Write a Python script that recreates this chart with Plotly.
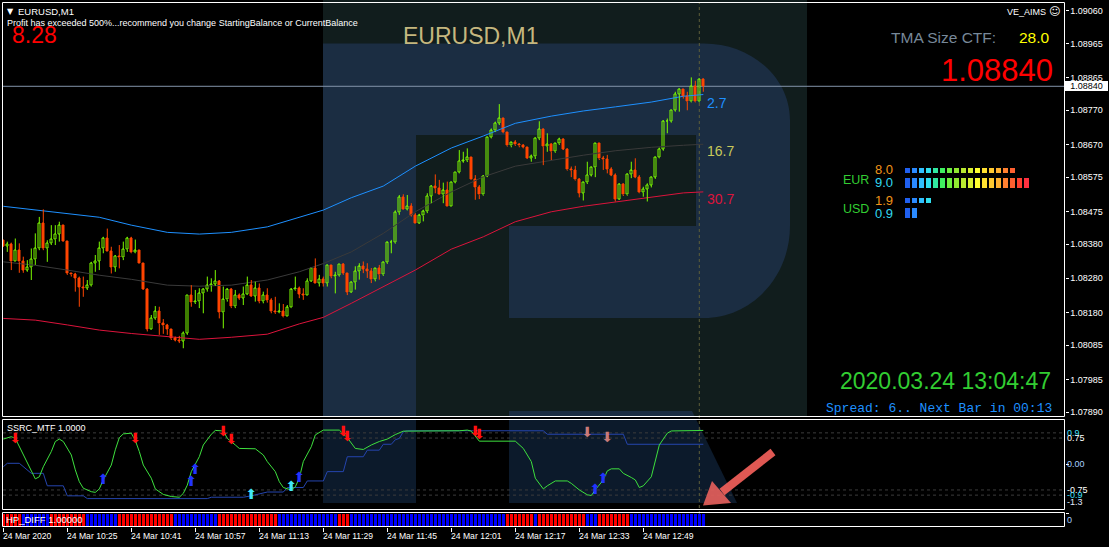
import plotly.graph_objects as go
import pandas as pd

W, H = 1109, 547

# ---------------- data ----------------
symbol = "EURUSD,M1"
start_time = "2020-03-24 10:09"
open_first = 1.08390
close = [
    1.08374, 1.08380, 1.08328, 1.08362, 1.08328, 1.08304, 1.08312, 1.08335, 1.08367, 1.08440,
    1.08367, 1.08382, 1.08393, 1.08409, 1.08434, 1.08388, 1.08294, 1.08290, 1.08280, 1.08254,
    1.08251, 1.08259, 1.08324, 1.08330, 1.08367, 1.08396, 1.08357, 1.08312, 1.08345, 1.08340,
    1.08364, 1.08396, 1.08355, 1.08360, 1.08324, 1.08248, 1.08131, 1.08163, 1.08183, 1.08147,
    1.08141, 1.08131, 1.08103, 1.08100, 1.08097, 1.08120, 1.08230, 1.08209, 1.08212, 1.08236,
    1.08248, 1.08258, 1.08263, 1.08272, 1.08180, 1.08217, 1.08246, 1.08197, 1.08231, 1.08222,
    1.08233, 1.08258, 1.08228, 1.08251, 1.08212, 1.08231, 1.08215, 1.08183, 1.08180, 1.08184,
    1.08168, 1.08194, 1.08246, 1.08251, 1.08234, 1.08231, 1.08272, 1.08309, 1.08265, 1.08277,
    1.08265, 1.08318, 1.08285, 1.08288, 1.08320, 1.08294, 1.08239, 1.08268, 1.08300, 1.08313,
    1.08307, 1.08300, 1.08276, 1.08308, 1.08290, 1.08326, 1.08383, 1.08384, 1.08472, 1.08516,
    1.08481, 1.08489, 1.08464, 1.08441, 1.08462, 1.08475, 1.08520, 1.08549, 1.08542, 1.08524,
    1.08535, 1.08489, 1.08560, 1.08589, 1.08622, 1.08623, 1.08633, 1.08567, 1.08545, 1.08523,
    1.08578, 1.08691, 1.08710, 1.08732, 1.08746, 1.08705, 1.08666, 1.08675, 1.08669, 1.08666,
    1.08662, 1.08630, 1.08635, 1.08688, 1.08715, 1.08664, 1.08671, 1.08649, 1.08672, 1.08686,
    1.08657, 1.08596, 1.08594, 1.08567, 1.08528, 1.08559, 1.08581, 1.08603, 1.08672, 1.08628,
    1.08626, 1.08598, 1.08581, 1.08511, 1.08554, 1.08523, 1.08583, 1.08593, 1.08575, 1.08530,
    1.08540, 1.08552, 1.08575, 1.08632, 1.08657, 1.08737, 1.08738, 1.08770, 1.08817, 1.08831,
    1.08811, 1.08795, 1.08840, 1.08795, 1.08860, 1.08840,
]
high = [
    1.08391, 1.08387, 1.08384, 1.08396, 1.08382, 1.08343, 1.08333, 1.08367, 1.08411, 1.08459,
    1.08481, 1.08391, 1.08435, 1.08435, 1.08445, 1.08434, 1.08388, 1.08294, 1.08296, 1.08285,
    1.08285, 1.08275, 1.08328, 1.08348, 1.08387, 1.08401, 1.08425, 1.08372, 1.08348, 1.08377,
    1.08387, 1.08401, 1.08401, 1.08393, 1.08360, 1.08324, 1.08251, 1.08173, 1.08199, 1.08197,
    1.08161, 1.08147, 1.08131, 1.08110, 1.08112, 1.08125, 1.08230, 1.08260, 1.08246, 1.08251,
    1.08251, 1.08285, 1.08280, 1.08304, 1.08275, 1.08256, 1.08251, 1.08251, 1.08246, 1.08236,
    1.08256, 1.08285, 1.08275, 1.08270, 1.08265, 1.08241, 1.08251, 1.08222, 1.08226, 1.08207,
    1.08205, 1.08202, 1.08251, 1.08285, 1.08256, 1.08251, 1.08280, 1.08309, 1.08338, 1.08290,
    1.08285, 1.08320, 1.08318, 1.08299, 1.08320, 1.08324, 1.08294, 1.08271, 1.08315, 1.08324,
    1.08329, 1.08324, 1.08310, 1.08310, 1.08319, 1.08329, 1.08387, 1.08392, 1.08478, 1.08523,
    1.08525, 1.08523, 1.08499, 1.08470, 1.08468, 1.08480, 1.08528, 1.08552, 1.08583, 1.08567,
    1.08559, 1.08562, 1.08562, 1.08589, 1.08654, 1.08649, 1.08659, 1.08633, 1.08581, 1.08552,
    1.08581, 1.08693, 1.08717, 1.08737, 1.08788, 1.08748, 1.08705, 1.08678, 1.08683, 1.08674,
    1.08671, 1.08662, 1.08641, 1.08691, 1.08738, 1.08717, 1.08703, 1.08674, 1.08674, 1.08690,
    1.08688, 1.08659, 1.08606, 1.08608, 1.08572, 1.08562, 1.08620, 1.08606, 1.08674, 1.08674,
    1.08637, 1.08640, 1.08604, 1.08586, 1.08557, 1.08557, 1.08586, 1.08620, 1.08630, 1.08581,
    1.08547, 1.08557, 1.08577, 1.08635, 1.08661, 1.08741, 1.08746, 1.08772, 1.08824, 1.08834,
    1.08831, 1.08824, 1.08866, 1.08856, 1.08863, 1.08863,
]
low = [
    1.08372, 1.08357, 1.08304, 1.08328, 1.08296, 1.08296, 1.08299, 1.08275, 1.08319, 1.08362,
    1.08362, 1.08328, 1.08377, 1.08377, 1.08387, 1.08387, 1.08290, 1.08285, 1.08241, 1.08197,
    1.08226, 1.08246, 1.08256, 1.08299, 1.08304, 1.08353, 1.08357, 1.08294, 1.08299, 1.08309,
    1.08333, 1.08357, 1.08353, 1.08353, 1.08324, 1.08246, 1.08125, 1.08130, 1.08159, 1.08115,
    1.08118, 1.08115, 1.08100, 1.08096, 1.08091, 1.08076, 1.08115, 1.08197, 1.08205, 1.08193,
    1.08178, 1.08241, 1.08241, 1.08258, 1.08163, 1.08134, 1.08212, 1.08193, 1.08193, 1.08217,
    1.08202, 1.08231, 1.08226, 1.08212, 1.08207, 1.08207, 1.08209, 1.08178, 1.08176, 1.08178,
    1.08166, 1.08168, 1.08193, 1.08244, 1.08222, 1.08217, 1.08231, 1.08270, 1.08265, 1.08256,
    1.08256, 1.08256, 1.08280, 1.08236, 1.08285, 1.08290, 1.08231, 1.08237, 1.08247, 1.08276,
    1.08295, 1.08281, 1.08266, 1.08271, 1.08276, 1.08287, 1.08322, 1.08353, 1.08381, 1.08465,
    1.08480, 1.08478, 1.08460, 1.08441, 1.08439, 1.08446, 1.08470, 1.08499, 1.08528, 1.08523,
    1.08499, 1.08489, 1.08489, 1.08557, 1.08586, 1.08617, 1.08619, 1.08567, 1.08509, 1.08511,
    1.08521, 1.08575, 1.08688, 1.08707, 1.08727, 1.08703, 1.08664, 1.08662, 1.08666, 1.08662,
    1.08659, 1.08628, 1.08620, 1.08628, 1.08683, 1.08610, 1.08649, 1.08625, 1.08646, 1.08669,
    1.08654, 1.08594, 1.08575, 1.08565, 1.08516, 1.08507, 1.08555, 1.08577, 1.08575, 1.08625,
    1.08596, 1.08586, 1.08578, 1.08504, 1.08509, 1.08520, 1.08521, 1.08572, 1.08572, 1.08528,
    1.08518, 1.08504, 1.08545, 1.08570, 1.08630, 1.08652, 1.08703, 1.08734, 1.08766, 1.08766,
    1.08804, 1.08770, 1.08793, 1.08793, 1.08793, 1.08824,
]
last_price = 1.08840

band_idx = [0, 8, 16, 24, 32, 41, 49, 57, 66, 74, 80, 87, 95, 103, 112, 120, 128, 137, 145, 153, 162, 170, 175]
band_upper = [1.08490, 1.08479, 1.08469, 1.08458, 1.08435, 1.08414, 1.08409, 1.08414, 1.08430, 1.08458, 1.08479,
              1.08515, 1.08549, 1.08607, 1.08660, 1.08695, 1.08732, 1.08753, 1.08768, 1.08780, 1.08794, 1.08811, 1.08816]
band_middle = [1.08328, 1.08318, 1.08304, 1.08289, 1.08277, 1.08260, 1.08257, 1.08260, 1.08275, 1.08299, 1.08323,
               1.08357, 1.08411, 1.08474, 1.08532, 1.08576, 1.08607, 1.08625, 1.08639, 1.08652, 1.08662, 1.08668, 1.08671]
band_lower = [1.08163, 1.08158, 1.08144, 1.08129, 1.08119, 1.08110, 1.08102, 1.08108, 1.08117, 1.08147, 1.08166,
              1.08207, 1.08255, 1.08304, 1.08365, 1.08401, 1.08445, 1.08474, 1.08490, 1.08503, 1.08518, 1.08529, 1.08532]
band_labels = ["2.7", "16.7", "30.7"]

ssrc_fast_idx = [0, 2, 3, 4, 6, 7, 8, 9, 10, 12, 13, 14, 15, 17, 18, 19, 20, 22, 23, 24, 25, 27, 28, 29, 30, 32,
                 33, 34, 35, 37, 38, 40, 42, 44, 45, 46, 47, 49, 50, 52, 53, 55, 56, 58, 59, 63, 65, 66, 68, 69, 70,
                 72, 73, 74, 75, 77, 78, 80, 84, 86, 88, 90, 92, 94, 96, 98, 100, 114, 116, 117, 119, 128, 130, 132,
                 133, 135, 136, 138, 141, 142, 144, 146, 147, 148, 150, 151, 152, 154, 155, 157, 158, 159, 160, 162,
                 163, 164, 166, 167, 175]
ssrc_fast = [0.72, 0.79, 0.74, 0.50, 0.06, -0.22, -0.43, -0.37, -0.08, 0.36, 0.65, 0.72, 0.65, 0.26, -0.17, -0.51,
             -0.70, -0.80, -0.82, -0.72, -0.46, -0.03, 0.41, 0.76, 0.87, 0.89, 0.68, 0.36, -0.03, -0.41, -0.72, -0.88,
             -0.94, -0.96, -0.85, -0.61, -0.22, 0.21, 0.55, 0.86, 0.97, 0.955, 0.74, 0.55, 0.45, 0.44, 0.26, 0.07,
             -0.22, -0.51, -0.68, -0.75, -0.66, -0.41, 0.07, 0.50, 0.84, 0.98, 0.98, 0.76, 0.45, 0.42, 0.55, 0.65,
             0.72, 0.85, 0.95, 0.96, 0.98, 0.95, 0.66, 0.66, 0.45, 0.07, -0.41, -0.72, -0.63, -0.49, -0.49, -0.56,
             -0.75, -0.89, -0.91, -0.75, -0.46, -0.20, -0.14, -0.14, -0.27, -0.39, -0.46, -0.68, -0.63, -0.37, 0.07,
             0.55, 0.89, 0.955, 0.97]
ssrc_slow_idx = [0, 1, 4, 7, 10, 11, 15, 16, 20, 21, 51, 52, 60, 62, 66, 70, 71, 75, 76, 80, 81, 85, 86, 90, 91,
                 94, 95, 97, 98, 99, 100, 101, 135, 136, 155, 156, 175]
ssrc_slow = [-0.08, 0.02, 0.02, -0.27, -0.27, -0.63, -0.63, -0.92, -0.92, -1.0, -1.0, -0.96, -0.96, -0.92, -0.81,
             -0.81, -0.68, -0.68, -0.49, -0.49, -0.22, -0.22, 0.21, 0.21, 0.40, 0.40, 0.57, 0.57, 0.70, 0.74, 0.93,
             0.96, 0.96, 0.86, 0.86, 0.57, 0.57]
ssrc_levels = [0.9, 0.75, -0.75, -0.9]
ssrc_axis_labels = [1.3, 0.9, 0.75, 0.0, -0.75, -0.9, -1.3]

sell_idx = [3, 33, 55, 57, 85, 86, 118, 119]
sell_val = [0.72, 0.72, 0.92, 0.69, 0.92, 0.78, 0.92, 0.81]
weak_sell_idx = [146, 151]
weak_sell_val = [0.87, 0.73]
buy_idx = [25, 47, 48, 74, 148, 150]
buy_val = [-0.48, -0.53, -0.19, -0.43, -0.78, -0.44]
strong_buy_idx = [62, 72]
strong_buy_val = [-0.92, -0.68]

# HP_DIFF histogram: (first bar, last bar, sign)
hp_segments = [(0, 4, -1), (5, 11, 1), (12, 20, -1), (21, 28, 1), (29, 42, -1), (43, 53, 1), (54, 68, -1),
               (69, 83, 1), (84, 86, -1), (87, 125, 1), (126, 132, -1), (133, 133, 1), (134, 145, -1),
               (146, 148, 1), (149, 156, -1), (157, 175, 1)]

time_tick_idx = [0, 16, 32, 48, 64, 80, 96, 112, 128, 144, 160]
time_labels = ["24 Mar 2020", "24 Mar 10:25", "24 Mar 10:41", "24 Mar 10:57", "24 Mar 11:13", "24 Mar 11:29",
               "24 Mar 11:45", "24 Mar 12:01", "24 Mar 12:17", "24 Mar 12:33", "24 Mar 12:49"]
price_ticks = [1.09060, 1.08965, 1.08865, 1.08770, 1.08670, 1.08575, 1.08475, 1.08380, 1.08280, 1.08180,
               1.08085, 1.07985, 1.07890]

strength_currency = ["EUR", "USD"]
strength_short = [8.0, 1.9]
strength_long = [9.0, 0.9]
separator_idx = 174

# ---------------- helpers ----------------
t0 = pd.Timestamp(start_time)


def T(k):
    return t0 + pd.Timedelta(minutes=k)


def px(x):
    return x / W


def py(y):
    return 1 - y / H


FONT = "Liberation Sans"
n = len(close)
opens = [open_first] + close[:-1]
bull = [i for i in range(n) if close[i] >= opens[i]]
bear = [i for i in range(n) if close[i] < opens[i]]


def bodies(idx):
    return ([T(i) for i in idx],
            [min(opens[i], close[i]) for i in idx],
            [max(abs(close[i] - opens[i]), 0.000004) for i in idx])


def wicks(idx):
    xs, ys = [], []
    for i in idx:
        top = max(opens[i], close[i])
        bot = min(opens[i], close[i])
        if high[i] > top:
            xs += [T(i), T(i), None]
            ys += [high[i], top, None]
        if low[i] < bot:
            xs += [T(i), T(i), None]
            ys += [bot, low[i], None]
    return xs, ys


fig = go.Figure()

BULL = "#7cfc00"
BEAR = "#ff4500"

# TMA bands
fig.add_trace(go.Scatter(x=[T(k) for k in band_idx], y=band_middle, mode="lines",
                         line=dict(color="#3a3a3a", width=1), xaxis="x", yaxis="y"))
fig.add_trace(go.Scatter(x=[T(k) for k in band_idx], y=band_upper, mode="lines",
                         line=dict(color="#1e90ff", width=1), xaxis="x", yaxis="y"))
fig.add_trace(go.Scatter(x=[T(k) for k in band_idx], y=band_lower, mode="lines",
                         line=dict(color="#dc143c", width=1), xaxis="x", yaxis="y"))

# candles
wx, wy = wicks(bull)
fig.add_trace(go.Scatter(x=wx, y=wy, mode="lines", line=dict(color=BULL, width=1), xaxis="x", yaxis="y"))
wx, wy = wicks(bear)
fig.add_trace(go.Scatter(x=wx, y=wy, mode="lines", line=dict(color=BEAR, width=1), xaxis="x", yaxis="y"))
bx, bb, bh = bodies(bull)
fig.add_trace(go.Bar(x=bx, y=bh, base=bb, width=36000, xaxis="x", yaxis="y",
                     marker=dict(color="rgba(0,0,0,0)", line=dict(color=BULL, width=1))))
bx, bb, bh = bodies(bear)
fig.add_trace(go.Bar(x=bx, y=bh, base=bb, width=36000, xaxis="x", yaxis="y",
                     marker=dict(color=BEAR, line=dict(color=BEAR, width=1))))

# SSRC panel
fig.add_trace(go.Scatter(x=[T(k) for k in ssrc_slow_idx], y=ssrc_slow, mode="lines",
                         line=dict(color="#2545ae", width=1), xaxis="x2", yaxis="y2"))
fig.add_trace(go.Scatter(x=[T(k) for k in ssrc_fast_idx], y=ssrc_fast, mode="lines",
                         line=dict(color="#3ee03e", width=1), xaxis="x2", yaxis="y2"))
for idx, val, glyph, col in [(sell_idx, sell_val, "⬇", "#ff1010"),
                             (weak_sell_idx, weak_sell_val, "⬇", "#c87a7a"),
                             (buy_idx, buy_val, "⬆", "#2233ff"),
                             (strong_buy_idx, strong_buy_val, "⬆", "#40e8f8")]:
    fig.add_trace(go.Scatter(x=[T(k) for k in idx], y=val, mode="text", text=[glyph] * len(idx),
                             textposition="middle center",
                             textfont=dict(size=14, color=col, family="DejaVu Sans"),
                             xaxis="x2", yaxis="y2"))

# HP_DIFF histogram
hp_x, hp_c = [], []
for a, b, s in hp_segments:
    for k in range(a, b + 1):
        hp_x.append(T(k))
        hp_c.append("#0000ff" if s > 0 else "#ff0000")
fig.add_trace(go.Bar(x=hp_x, y=[1] * len(hp_x), width=45000, marker=dict(color=hp_c, line=dict(width=0)),
                     xaxis="x3", yaxis="y3"))

# currency strength meter
grad = ["#2060f0", "#2a8aff", "#30c0ff", "#30e0f0", "#30e8a0", "#40f060", "#70f040", "#90e830", "#b8e830",
        "#d8f030", "#ffff30", "#ffe030", "#ffc830", "#ffb030", "#ff8030", "#ff6030", "#ff4030", "#ff3040"]
for r, (vs, vl) in enumerate(zip(strength_short, strength_long)):
    ns = int(round(vs * 2))
    nl = int(round(vl * 2))
    fig.add_trace(go.Bar(x=list(range(ns)), y=[0.5] * ns, base=[0.2 + 3 * r] * ns, width=0.72,
                         marker=dict(color=grad[:ns], line=dict(width=0)), xaxis="x4", yaxis="y4"))
    fig.add_trace(go.Bar(x=list(range(nl)), y=[1.0] * nl, base=[1.2 + 3 * r] * nl, width=0.72,
                         marker=dict(color=grad[:nl], line=dict(width=0)), xaxis="x4", yaxis="y4"))

# ---------------- layout ----------------
xdom = [px(2.5), px(1064.5)]
xr = [T(-0.2), T(265.3)]
axcommon = dict(showgrid=False, zeroline=False, showline=False, showticklabels=False)

shapes = []
# watermark background square
shapes.append(dict(type="rect", xref="paper", yref="paper", x0=px(323), x1=px(807), y0=py(416.5), y1=py(0),
                   fillcolor="#111d1d", line=dict(width=0), layer="below"))


def path(pts_cmds):
    out = []
    for c in pts_cmds:
        if isinstance(c, str):
            out.append(c)
        else:
            out.append("%.6f,%.6f" % (px(c[0]), py(c[1])))
    return " ".join(out)


p_main = path(["M", (323, 43.5), "L", (704, 43.5), "C", (751.5, 43.5), (790, 78), (790, 120),
               "L", (790, 226), "C", (790, 277), (751.5, 318), (704, 318), "L", (509, 318), "L", (509, 226),
               "L", (696, 226), "L", (696, 135), "L", (416, 135), "L", (416, 416.5), "L", (323, 416.5), "Z"])
shapes.append(dict(type="path", xref="paper", yref="paper", path=p_main, fillcolor="#1b2d42",
                   line=dict(width=0), layer="below"))
leg_main = path(["M", (509, 411), "L", (692, 411), "L", (694.7, 416.5), "L", (509, 416.5), "Z"])
shapes.append(dict(type="path", xref="paper", yref="paper", path=leg_main, fillcolor="#1b2d42",
                   line=dict(width=0), layer="below"))
stem_sub = path(["M", (323, 419.5), "L", (416, 419.5), "L", (416, 503), "L", (323, 503), "Z"])
leg_sub = path(["M", (509, 419.5), "L", (696.2, 419.5), "L", (737, 503), "L", (509, 503), "Z"])
for p in (stem_sub, leg_sub):
    shapes.append(dict(type="path", xref="paper", yref="paper", path=p, fillcolor="#0c1a2b",
                       line=dict(width=0), layer="below"))

# level lines
for lv in ssrc_levels:
    shapes.append(dict(type="line", xref="paper", yref="y2", x0=px(3), x1=px(1064), y0=lv, y1=lv,
                       line=dict(color="#3c3c3c", width=1, dash="3px,3px"), layer="below"))
# current price line
shapes.append(dict(type="line", xref="paper", yref="y", x0=px(3), x1=px(1064), y0=last_price, y1=last_price,
                   line=dict(color="#8494aa", width=1), layer="below"))
# period separator
shapes.append(dict(type="line", xref="x", yref="paper", x0=T(separator_idx), x1=T(separator_idx),
                   y0=py(526), y1=py(3), line=dict(color="#5e5e3a", width=1, dash="3px,3px"), layer="below"))
# pink arrow
shapes.append(dict(type="line", xref="paper", yref="paper", x0=px(773), y0=py(452), x1=px(722), y1=py(492),
                   line=dict(color="rgba(242,96,90,0.92)", width=8), layer="above"))
shapes.append(dict(type="path", xref="paper", yref="paper",
                   path=path(["M", (703, 505.5), "L", (712, 481), "L", (731, 503), "Z"]),
                   fillcolor="rgba(232,96,92,0.9)", line=dict(width=0), layer="above"))
# frames
for (y0, y1) in [(2.5, 416.5), (419.5, 509.5), (512.5, 526.5)]:
    shapes.append(dict(type="rect", xref="paper", yref="paper", x0=px(2.5), x1=px(1064.5), y0=py(y1), y1=py(y0),
                       line=dict(color="#ffffff", width=1), fillcolor="rgba(0,0,0,0)", layer="above"))


def txt(x, y, s, size, color, family=FONT, xanchor="left", yanchor="middle", **kw):
    d = dict(x=px(x), y=py(y), xref="paper", yref="paper", text=s, showarrow=False,
             font=dict(size=size, color=color, family=family), xanchor=xanchor, yanchor=yanchor,
             borderpad=0, borderwidth=0)
    d.update(kw)
    return d


ann = []
ann.append(txt(6.5, 11, "▼", 8, "#ffffff", family="DejaVu Sans"))
ann.append(txt(18, 11.5, symbol, 9.5, "#ffffff"))
ann.append(txt(7, 23.5, "Profit has exceeded 500%...recommend you change StartingBalance or CurrentBalance",
               9, "#ffffff"))
ann.append(txt(12, 35, "8.28", 23, "#ff0000"))
ann.append(txt(403, 36, symbol, 23, "#c5b77f"))
ann.append(txt(891, 37, "TMA Size CTF:", 15.5, "#778899"))
ann.append(txt(1019, 37, "28.0", 15.5, "#ffff00"))
ann.append(txt(1053, 70, "%.5f" % last_price, 31, "#ff0000", xanchor="right"))
ann.append(txt(1046, 11.5, "VE_AIMS", 9, "#ffffff", xanchor="right"))
ann.append(txt(1054, 12, "☺", 11, "#ffffff", family="DejaVu Sans", xanchor="center"))
for lab, yy, col in zip(band_labels, [103, 151, 199], ["#1e90ff", "#c8c85a", "#dc143c"]):
    ann.append(txt(707, yy, lab, 14, col))
# strength meter labels
for r, cur in enumerate(strength_currency):
    ann.append(txt(843, 179.5 + 30 * r, cur, 12.5, "#32cd32"))
    ann.append(txt(875, 170 + 30 * r, "%.1f" % strength_short[r], 13, "#f09418"))
    ann.append(txt(875, 183 + 30 * r, "%.1f" % strength_long[r], 13, "#30d8f0"))
ann.append(txt(1051, 381, "2020.03.24 13:04:47", 23, "#32cd32", xanchor="right"))
ann.append(txt(1052, 408, "Spread: 6.. Next Bar in 00:13", 13, "#1e90ff", family="Liberation Mono",
               xanchor="right"))
ann.append(txt(7, 427.5, "SSRC_MTF 1.0000", 9, "#ffffff"))
ann.append(txt(6, 519.5, "HP_DIFF 1.00000", 9.5, "#ffffff"))
# current price box
ann.append(dict(x=px(1064.5), y=last_price, xref="paper", yref="y", text="%.5f" % last_price, showarrow=False,
                font=dict(size=9, color="#000000", family=FONT), xanchor="left", yanchor="middle",
                bgcolor="#ffffff", width=43, height=10, align="center", borderpad=0, borderwidth=0))
# SSRC level labels
lab_cols = ["#e0e8ff", "#40e0ff", "#ffffff", "#a8d0ff", "#ffffff", "#40e0ff", "#e0e8ff"]
for v, col in zip(ssrc_axis_labels, lab_cols):
    shift = -6.5 if v >= 1.3 else (6.5 if v <= -1.3 else 0)
    ann.append(dict(x=px(1067), y=v, xref="paper", yref="y2", text=("%.2f" % v if v == 0 else "%g" % v),
                    showarrow=False, font=dict(size=9, color=col, family=FONT), xanchor="left",
                    yanchor="middle", yshift=shift, borderpad=0, borderwidth=0))
ann.append(txt(1067, 519.5, "0", 9, "#a8d0ff"))
# time labels
for k, lab in zip(time_tick_idx, time_labels):
    ann.append(dict(x=T(k), y=py(535.5), xref="x3", yref="paper", text=lab, showarrow=False,
                    font=dict(size=8.6, color="#ffffff", family=FONT), xanchor="left", yanchor="middle",
                    borderpad=0, borderwidth=0))

fig.update_layout(
    width=W, height=H, margin=dict(l=0, r=0, t=0, b=0, pad=0),
    paper_bgcolor="#000000", plot_bgcolor="rgba(0,0,0,0)",
    showlegend=False, barmode="overlay", hovermode=False, bargap=0,
    xaxis=dict(domain=xdom, range=xr, anchor="y", **axcommon),
    xaxis2=dict(domain=xdom, range=xr, anchor="y2", matches="x", **axcommon),
    xaxis3=dict(domain=xdom, range=xr, anchor="y3", matches="x", showgrid=False, zeroline=False,
                showline=False, showticklabels=False, ticks="outside", ticklen=4, tickcolor="#ffffff",
                tickvals=[T(k) for k in time_tick_idx]),
    xaxis4=dict(domain=[px(904), px(1030)], range=[-0.5, 17.5], anchor="y4", **axcommon),
    yaxis=dict(domain=[py(416.5), py(2.5)], range=[1.078769, 1.090844], anchor="x", side="right",
               showgrid=False, zeroline=False, showline=False, ticks="outside", ticklen=3,
               tickcolor="#ffffff", tickvals=price_ticks, ticktext=["%.5f" % v for v in price_ticks],
               tickfont=dict(size=9, color="#ffffff", family=FONT)),
    yaxis2=dict(domain=[py(509.5), py(419.5)], range=[-1.315, 1.286], anchor="x2", side="right",
                showgrid=False, zeroline=False, showline=False, ticks="outside", ticklen=3,
                tickcolor="#ffffff", tickvals=[0], showticklabels=False),
    yaxis3=dict(domain=[py(526.5), py(512.5)], range=[-0.13, 1.087], anchor="x3", side="right",
                showgrid=False, zeroline=False, showline=False, ticks="outside", ticklen=3,
                tickcolor="#ffffff", tickvals=[1.0], showticklabels=False),
    yaxis4=dict(domain=[py(220), py(166)], range=[5.4, 0], anchor="x4", **axcommon),
    shapes=shapes, annotations=ann,
)

fig.write_html("out.html", config={"displayModeBar": False},
               post_script="document.body.style.margin='0';document.body.style.overflow='hidden';")
